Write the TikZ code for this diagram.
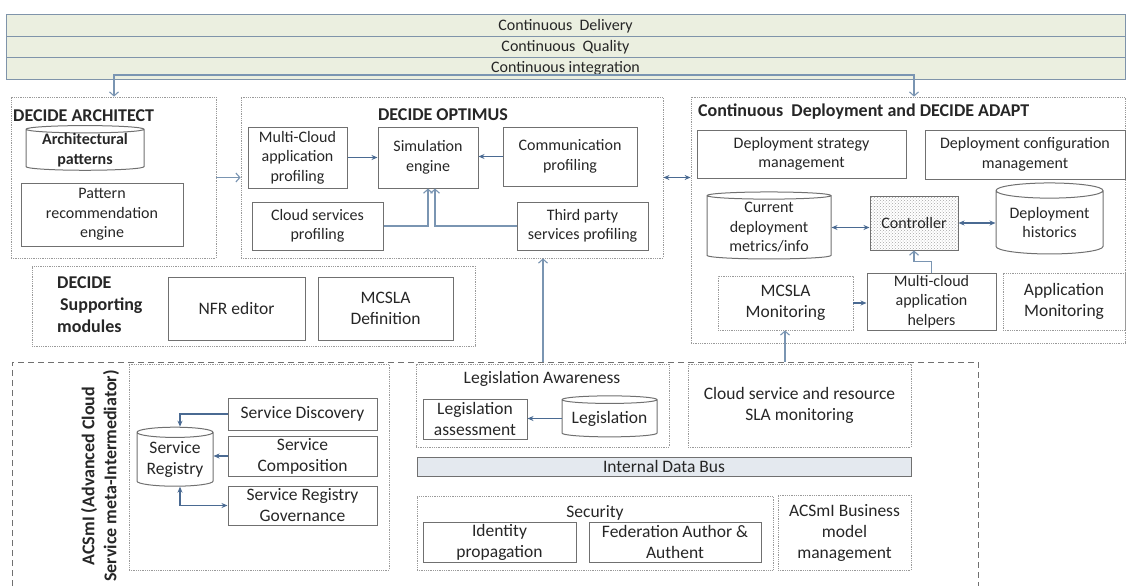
\documentclass[tikz,border=0pt]{standalone}
\usepackage{fontspec}
\setmainfont{Carlito}
\usetikzlibrary{shapes.geometric,arrows.meta,patterns}
\definecolor{bandfill}{HTML}{EBEFE0}
\definecolor{bandline}{HTML}{7F94AA}
\definecolor{linkc}{HTML}{7A95B2}
\definecolor{feedc}{HTML}{4A6A92}
\definecolor{boxline}{HTML}{707070}
\definecolor{dotline}{HTML}{9A9A9A}
\definecolor{busfill}{HTML}{E4E9EF}
\definecolor{inkc}{HTML}{262626}
\begin{document}
\begin{tikzpicture}[x=1pt, y=-1pt,
  every node/.style={text=inkc, align=center, inner sep=0pt, font=\fontsize{16}{19.5}\selectfont},
  sz/.style 2 args={minimum width=#1pt, minimum height=#2pt},
  box/.style={draw=boxline, line width=1pt},
  grp/.style={draw=dotline, densely dotted, line width=0.8pt},
  band/.style={draw=bandline, line width=1pt, fill=bandfill, sz={1119}{21.5}},
  db/.style={box, cylinder, shape border rotate=90, aspect=#1},
  ttl/.style={font=\fontsize{18}{22}\selectfont\bfseries},
  big/.style={font=\fontsize{17.5}{21}\selectfont},
  conn/.style={draw=linkc, line width=1.1pt, >={Straight Barb[length=4pt,width=9pt]}, ->},
  feed/.style={draw=feedc, line width=1.1pt, >={Stealth[length=6pt,width=5pt]}, ->}]
\useasboundingbox (0,0) rectangle (1126,586);
\foreach \t [count=\i] in {Continuous~ Delivery, Continuous~ Quality, Continuous integration}
  \node[band] (band\i) at (565.5,4.25+21.5*\i) {\t};
\coordinate (ciL) at (114,75);
\coordinate (ciR) at (914,75);

\node[grp, sz={205}{161}] (arch) at (113.5,177.5) {};
\node[ttl, anchor=west] (archT) at (13,116) {DECIDE ARCHITECT};
\node[db=0.085, sz={118}{44}, font=\fontsize{16}{19.5}\selectfont\bfseries] (apat) at (85,150) {Architectural\\patterns};
\node[box, sz={162}{63}] (prec) at (102,214.5) {Pattern\\recommendation\\engine};

\node[grp, sz={422}{161}] (optimus) at (452,177.5) {};
\node[ttl] (optT) at (443,115) {DECIDE OPTIMUS};
\node[box, sz={99}{61}] (mcprof) at (297.5,157.5) {Multi-Cloud\\application\\profiling};
\node[box, sz={100}{61}] (sim) at (428,157.5) {Simulation\\engine};
\node[box, sz={134}{59}] (comm) at (570,156.5) {Communication\\profiling};
\node[box, sz={131}{48}] (cprof) at (317.5,226) {Cloud services\\profiling};
\node[box, sz={131}{48}] (third) at (582.5,226) {Third party\\services profiling};

\node[grp, sz={434}{246}] (adapt) at (908,220) {};
\node[ttl, anchor=west] (adaT) at (698,112) {Continuous~ Deployment and DECIDE ADAPT};
\node[box, sz={209}{48}] (dstrat) at (801.5,154) {Deployment strategy\\management};
\node[box, sz={200}{49}] (dconf) at (1025,154.5) {Deployment configuration\\management};
\node[db=0.09, sz={124}{67}] (metrics) at (769,227.5) {Current\\deployment\\metrics/info};
\node[box, pattern=crosshatch dots, pattern color=gray!70, sz={88}{54}] (ctrl) at (914,223) {Controller};
\node[db=0.19, sz={107}{71}] (hist) at (1049.5,222.5) {Deployment\\historics};
\node[grp, sz={135}{54}, big] (mcmon) at (785.5,303) {MCSLA\\Monitoring};
\node[box, sz={129}{57}] (helpers) at (931.5,301.5) {Multi-cloud\\application\\helpers};
\node[grp, sz={122}{57}, big] (appmon) at (1064,301.5) {Application\\Monitoring};

\node[grp, sz={443}{80}] (supp) at (253.5,306) {};
\node[ttl, anchor=west, align=left] (suppT) at (57,305) {DECIDE\\\,Supporting\\modules};
\node[box, sz={137}{63}, big] (nfr) at (236.5,308.5) {NFR editor};
\node[box, sz={135}{63}, big] (mcdef) at (385.5,308.5) {MCSLA\\Definition};

\draw[draw=boxline, line width=1pt, dash pattern=on 6pt off 4pt] (12,586) |- (978,362) -- (978,586);
\coordinate (acsA) at (543,362);
\coordinate (acsB) at (785,362);
\node[ttl, rotate=90] (acsT) at (100,476) {ACSmI (Advanced Cloud\\Service meta-Intermediator)};
\node[grp, sz={260}{206}] (sgrp) at (259,467) {};
\node[box, sz={149}{32}, big] (sdisc) at (302.5,414) {Service Discovery};
\node[box, sz={149}{40}, big] (scomp) at (302.5,456) {Service\\Composition};
\node[box, sz={149}{39}, big] (sgov) at (302.5,505.5) {Service Registry\\Governance};
\node[db=0.18, sz={76}{59}, big] (sreg) at (175,459.5) {Service\\Registry};
\node[grp, sz={253}{83}] (lega) at (542.5,405.5) {};
\node[big] (legaT) at (542,379) {Legislation Awareness};
\node[box, sz={104}{40}, big] (legass) at (475,419) {Legislation\\assessment};
\node[db=0.1, sz={95}{41}, big] (legis) at (609.5,418.5) {Legislation};
\node[grp, sz={223}{83}, big] (slamon) at (799.5,405.5) {Cloud service and resource\\SLA monitoring};
\node[draw=boxline, line width=1pt, fill=busfill, sz={494}{19}, big] (bus) at (664,466.5) {Internal Data Bus};
\node[grp, sz={356}{74}] (secu) at (595,533) {};
\node[big] (secuT) at (595,513) {Security};
\node[box, sz={153}{40}, big] (idprop) at (499.5,542) {Identity\\propagation};
\node[box, sz={172}{40}, big] (fed) at (675,542) {Federation Author \&\\Authent};
\node[grp, sz={133}{75}, big] (bizm) at (844.5,532.5) {ACSmI Business\\model\\management};

\draw[conn,<->] (arch.north -| ciL) |- (ciR) -- (adapt.north -| ciR);
\draw[conn] (arch.east) -- (optimus.west);
\draw[feed] (mcprof.east) -- (mcprof.east -| sim.west);
\draw[feed] (comm.west) -- (comm.west -| sim.east);
\draw[conn] (cprof.east) -| (sim.south);
\draw[conn] (third.west) -| ([xshift=7]sim.south);
\draw[feed,<->] (optimus.east) -- (optimus.east -| adapt.west);
\draw[feed,<->] (metrics.east) -- (metrics.east -| ctrl.west);
\draw[feed,<->] (ctrl.east) -- (ctrl.east -| hist.west);
\draw[feed] (mcmon.east) -- (mcmon.east -| helpers.west);
\draw[conn] (helpers.north) -- ++(0,-11) -| (ctrl.south);
\draw[conn] (acsA) -- (acsA |- optimus.south);
\draw[conn] (acsB) -- (acsB |- mcmon.south);
\draw[feed] (sdisc.west) -| ([xshift=5]sreg.north);
\draw[feed] (scomp.west) -- (scomp.west -| sreg.east);
\draw[feed,<->] ([xshift=5]sreg.south) |- (sgov.west);
\draw[feed] (legis.west) -- (legis.west -| legass.east);
\end{tikzpicture}
\end{document}
